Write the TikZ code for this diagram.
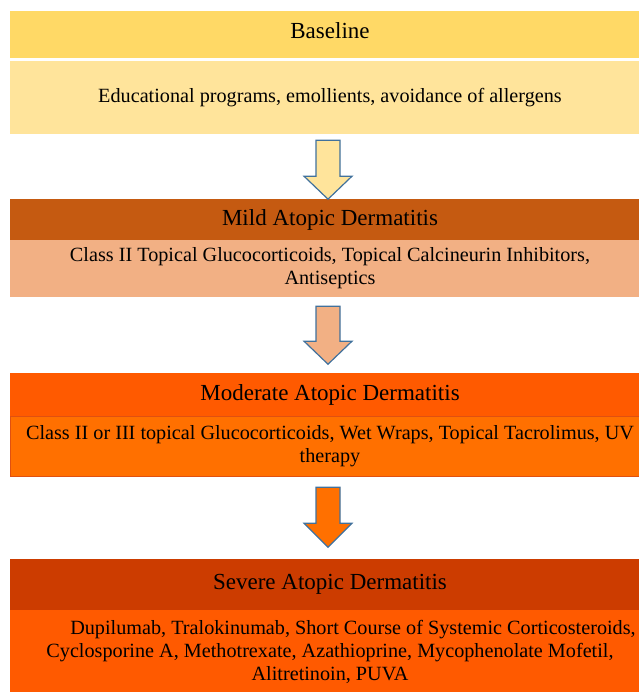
\documentclass[tikz,border=0pt]{standalone}
\usepackage{fontspec}
\setmainfont{Liberation Serif}
\usetikzlibrary{calc,positioning}

\definecolor{basehead}{HTML}{FFD966}
\definecolor{basebody}{HTML}{FFE49B}
\definecolor{mildhead}{HTML}{C55A11}
\definecolor{mildbody}{HTML}{F2B084}
\definecolor{modhead}{HTML}{FF5A00}
\definecolor{modbody}{HTML}{FF7000}
\definecolor{modline}{HTML}{E05010}
\definecolor{sevhead}{HTML}{CC3C00}
\definecolor{sevbody}{HTML}{FF5A00}
\definecolor{arrowblue}{HTML}{41719C}

\begin{document}
\begin{tikzpicture}[x=1pt,y=-1pt,
	box/.style={minimum width=640pt, inner sep=0pt, align=center, anchor=center},
	headtext/.style={font=\fontsize{23}{27}\selectfont},
	bodytext/.style={font=\fontsize{20.2}{23}\selectfont},
	arrowline/.style={draw=arrowblue, line width=1.2pt, line join=miter}]

		\useasboundingbox (0,0) rectangle (638,692);

		% baseline
		\node[box, headtext, fill=basehead, minimum height=47pt, text depth=8pt] (basehead) at (330,35) {Baseline};
		\node[box, bodytext, fill=basebody, minimum height=73pt] (basebody) at (330,97.5)
			{Educational programs, emollients, avoidance of allergens};

		% mild
		\node[box, headtext, fill=mildhead, minimum height=41pt] (mildhead) at (330,219.5) {Mild Atopic Dermatitis};
		\node[box, bodytext, fill=mildbody, minimum height=57pt] (mildbody) at (330,268.5)
			{Class II Topical Glucocorticoids, Topical Calcineurin Inhibitors,\\ Antiseptics};

		% moderate
		\node[box, headtext, fill=modhead, minimum height=43pt] (modhead) at (330,394.5) {Moderate Atopic Dermatitis};
		\node[box, bodytext, fill=modbody, draw=modline, minimum height=60pt] (modbody) at (330,446)
			{Class II or III topical Glucocorticoids, Wet Wraps, Topical Tacrolimus, UV\\ therapy};

		% severe
		\node[box, headtext, fill=sevhead, minimum height=51pt] (sevhead) at (330,584.5) {Severe Atopic Dermatitis};
		\node[box, bodytext, fill=sevbody, minimum height=84pt] (sevbody) at (330,652)
			{\hspace*{46pt}Dupilumab, Tralokinumab, Short Course of Systemic Corticosteroids,\\
			Cyclosporine A, Methotrexate, Azathioprine, Mycophenolate Mofetil,\\
			Alitretinoin, PUVA};

		% arrows
		\draw[arrowline, fill=basebody] ($(basebody.south)+(-14,6)$) -- ++(0,36) -- ++(-12,0)
			-- ++(24,23) -- ++(24,-23) -- ++(-12,0) -- ++(0,-36) -- cycle;
		\draw[arrowline, fill=mildbody] ($(mildbody.south)+(-14,9)$) -- ++(0,35) -- ++(-12,0)
			-- ++(24,23) -- ++(24,-23) -- ++(-12,0) -- ++(0,-35) -- cycle;
		\draw[arrowline, fill=modbody] ($(modbody.south)+(-14,11)$) -- ++(0,36) -- ++(-12,0)
			-- ++(24,24) -- ++(24,-24) -- ++(-12,0) -- ++(0,-36) -- cycle;
	\end{tikzpicture}
\end{document}
